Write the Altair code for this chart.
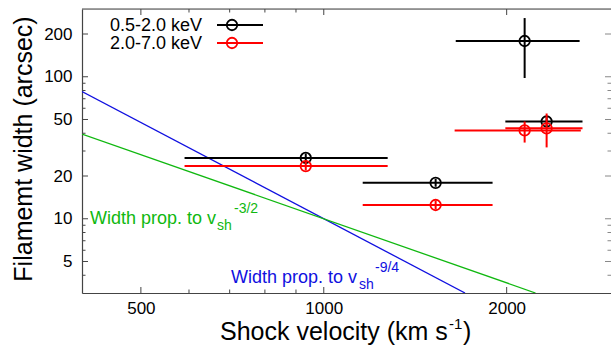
import altair as alt
import pandas as pd

# ---- data ----
x_major = [500, 1000, 2000]
x_minor = [600, 700, 800, 900]
y_major = [5, 10, 20, 50, 100, 200]
y_minor = [4, 6, 7, 8, 9, 30, 40, 60, 70, 80, 90]

black_x = [934, 1528, 2141, 2327]
black_xlo = [590, 1159, 1649, 1990]
black_xhi = [1274, 1896, 2637, 2666]
black_y = [26.8, 17.9, 178.6, 48.4]
black_ylo = [25.0, 16.8, 98.0, 44.5]
black_yhi = [28.8, 19.1, 259.0, 52.5]

red_x = [934, 1528, 2141, 2327]
red_xlo = [590, 1159, 1642, 1990]
red_xhi = [1274, 1896, 2649, 2666]
red_y = [23.5, 12.5, 41.9, 43.3]
red_ylo = [21.9, 11.7, 34.4, 31.8]
red_yhi = [25.2, 13.4, 48.4, 55.1]

blue_v = [400, 1708]
blue_w = [78.6, 3.0]
green_v = [400, 2231]
green_w = [39.5, 3.0]

labels = ["0.5-2.0 keV", "2.0-7.0 keV"]

W, H = 529, 284
FONT = "Liberation Sans"
AX = "#444444"
BLUE = "#1010e0"
GREEN = "#10b810"

xs = alt.Scale(type="log", domain=[400, 2970], nice=False)
ys = alt.Scale(type="log", domain=[3, 300], nice=False)

black = pd.DataFrame(dict(x=black_x, xlo=black_xlo, xhi=black_xhi, y=black_y, ylo=black_ylo, yhi=black_yhi))
red = pd.DataFrame(dict(x=red_x, xlo=red_xlo, xhi=red_xhi, y=red_y, ylo=red_ylo, yhi=red_yhi))
blue = pd.DataFrame(dict(v=blue_v, w=blue_w))
green = pd.DataFrame(dict(v=green_v, w=green_w))
one = alt.Data(values=[{}])

xaxis = alt.Axis(values=x_major, ticks=False, tickSize=0, labelPadding=7, grid=False,
                 domainColor=AX, domainWidth=1.2, labelFontSize=17, labelFont=FONT,
                 labelColor="black", title=None, format="d")
yaxis = alt.Axis(values=y_major, ticks=False, tickSize=0, labelPadding=10, grid=False,
                 domainColor=AX, domainWidth=1.2, labelFontSize=17, labelFont=FONT,
                 labelColor="black", title=None, format="d")


def X(f):
    return alt.X(f, scale=xs, axis=xaxis)


def Y(f):
    return alt.Y(f, scale=ys, axis=yaxis)


layers = []

# model lines
layers.append(alt.Chart(blue).mark_line(color=BLUE, strokeWidth=1.3, clip=True).encode(
    x=X("v:Q"), y=Y("w:Q")))
layers.append(alt.Chart(green).mark_line(color=GREEN, strokeWidth=1.3, clip=True).encode(
    x=X("v:Q"), y=Y("w:Q")))

# data with error bars
for df, col in [(black, "black"), (red, "#ff0000")]:
    layers.append(alt.Chart(df).mark_rule(color=col, strokeWidth=2).encode(
        x=X("xlo:Q"), x2="xhi:Q", y=Y("y:Q")))
    layers.append(alt.Chart(df).mark_rule(color=col, strokeWidth=2).encode(
        x=X("x:Q"), y=Y("ylo:Q"), y2="yhi:Q"))
    layers.append(alt.Chart(df).mark_point(shape="circle", filled=False, color=col, size=110,
                                           strokeWidth=1.8, opacity=1).encode(
        x=X("x:Q"), y=Y("y:Q")))


# inward ticks
def xticks(vals, length):
    d = pd.DataFrame(dict(v=vals))
    return [
        alt.Chart(d).mark_rule(color=AX, strokeWidth=1).encode(
            x=X("v:Q"), y=alt.value(H), y2=alt.value(H - length)),
        alt.Chart(d).mark_rule(color=AX, strokeWidth=1).encode(
            x=X("v:Q"), y=alt.value(0), y2=alt.value(length)),
    ]


def yticks(vals, length):
    d = pd.DataFrame(dict(v=vals))
    return [
        alt.Chart(d).mark_rule(color=AX, strokeWidth=1).encode(
            y=Y("v:Q"), x=alt.value(0), x2=alt.value(length)),
        alt.Chart(d).mark_rule(color="#888888", strokeWidth=1).encode(
            y=Y("v:Q"), x=alt.value(W - length), x2=alt.value(W)),
    ]


layers += xticks(x_major, 6) + xticks(x_minor, 3.5) + yticks(y_major, 6) + yticks(y_minor, 3.5)

# top border
layers.append(alt.Chart(one).mark_rule(color=AX, strokeWidth=1.2).encode(
    x=alt.value(0), x2=alt.value(W), y=alt.value(0)))

# legend
for i, (lab, col) in enumerate(zip(labels, ["black", "#ff0000"])):
    yy = 16 + 18 * i
    layers.append(alt.Chart(one).mark_text(text=lab, align="right", baseline="middle", fontSize=18,
                                           font=FONT, color="black").encode(
        x=alt.value(120), y=alt.value(yy + 0.5)))
    layers.append(alt.Chart(one).mark_rule(color=col, strokeWidth=2).encode(
        x=alt.value(135), x2=alt.value(181), y=alt.value(yy)))
    layers.append(alt.Chart(one).mark_point(shape="circle", filled=False, color=col, size=110,
                                            strokeWidth=1.8, opacity=1).encode(
        x=alt.value(150), y=alt.value(yy)))


# annotations
def annot(main, sup, col, xl, yb, xsub, xsup):
    return [
        alt.Chart(one).mark_text(text=main, align="left", baseline="alphabetic", fontSize=18,
                                 font=FONT, color=col).encode(x=alt.value(xl), y=alt.value(yb)),
        alt.Chart(one).mark_text(text="sh", align="left", baseline="alphabetic", fontSize=14,
                                 font=FONT, color=col).encode(x=alt.value(xsub), y=alt.value(yb + 6)),
        alt.Chart(one).mark_text(text=sup, align="left", baseline="alphabetic", fontSize=14,
                                 font=FONT, color=col).encode(x=alt.value(xsup), y=alt.value(yb - 11)),
    ]


layers += annot("Width prop. to v", "-3/2", GREEN, 8, 215, 135, 152)
layers += annot("Width prop. to v", "-9/4", BLUE, 149, 274, 277, 293)

# axis titles
layers.append(alt.Chart(one).mark_text(text="Shock velocity (km s", align="left", baseline="alphabetic",
                                       fontSize=25, font=FONT, color="black").encode(
    x=alt.value(138), y=alt.value(331)))
layers.append(alt.Chart(one).mark_text(text="-1", align="left", baseline="alphabetic",
                                       fontSize=15, font=FONT, color="black").encode(
    x=alt.value(367), y=alt.value(320)))
layers.append(alt.Chart(one).mark_text(text=")", align="left", baseline="alphabetic",
                                       fontSize=25, font=FONT, color="black").encode(
    x=alt.value(381), y=alt.value(331)))
layers.append(alt.Chart(one).mark_text(text="Filamemt width (arcsec)", align="center",
                                       baseline="alphabetic", angle=270, fontSize=25, font=FONT,
                                       color="black").encode(
    x=alt.value(-50), y=alt.value(140)))

chart = alt.layer(*layers).properties(
    width=W, height=H,
    autosize=alt.AutoSizeParams(type="none"),
    padding={"left": 82, "top": 9, "right": 0, "bottom": 55},
).configure_view(stroke=None).configure(background="white")

chart.save("out.html", embed_options={"renderer": "svg", "actions": False})
